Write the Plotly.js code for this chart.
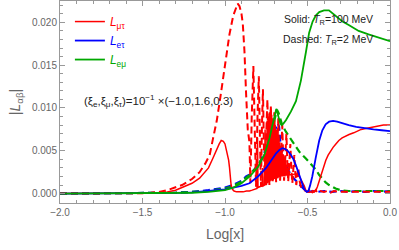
<!DOCTYPE html>
<html><head><meta charset="utf-8">
<script src="https://cdn.plot.ly/plotly-3.0.1.min.js"></script>
<style>html,body{margin:0;padding:0;background:#fff}#chart{width:399px;height:250px}</style>
</head><body><div id="chart"></div>
<script>
const xTickVals = [-2, -1.5, -1, -0.5, 0];
const yTickVals = [0, 0.005, 0.01, 0.015, 0.02];

const xRedSolid = [-2.0, -1.8, -1.6, -1.5, -1.45, -1.4, -1.35, -1.3, -1.275, -1.24,
 -1.2, -1.154, -1.12, -1.1, -1.074, -1.05, -1.035, -1.023, -1.01, -1.0,
 -0.993, -0.985, -0.978, -0.973, -0.968, -0.963, -0.955, -0.945, -0.93, -0.91,
 -0.89, -0.87, -0.852, -0.835, -0.82, -0.806, -0.803, -0.800, -0.79, -0.775,
 -0.772, -0.769, -0.760, -0.757, -0.754, -0.748, -0.745, -0.742, -0.738, -0.735,
 -0.731, -0.728, -0.724, -0.721, -0.717, -0.714, -0.710, -0.707, -0.703, -0.700,
 -0.696, -0.693, -0.689, -0.686, -0.682, -0.679, -0.675, -0.672, -0.668, -0.665,
 -0.661, -0.658, -0.654, -0.651, -0.647, -0.644, -0.640, -0.637, -0.633, -0.630,
 -0.626, -0.623, -0.619, -0.616, -0.612, -0.609, -0.600, -0.590, -0.575, -0.562,
 -0.550, -0.535, -0.520, -0.510, -0.500, -0.490, -0.480, -0.470, -0.460, -0.449,
 -0.440, -0.430, -0.420, -0.410, -0.400, -0.389, -0.375, -0.360, -0.345, -0.328,
 -0.310, -0.290, -0.270, -0.248, -0.220, -0.200, -0.175, -0.147, -0.120, -0.100,
 -0.070, -0.040, 0.0];
const yRedSolid = [0, 0, 0, 0.00001, 0.00003, 0.00008, 0.0002, 0.0004, 0.0006, 0.0009,
 0.0012, 0.0018, 0.0025, 0.003, 0.0041, 0.0052, 0.0058, 0.0062, 0.0061, 0.0058,
 0.0053, 0.0047, 0.0039, 0.0031, 0.002, 0.001, 0.0005, 0.0003, 0.0002, 0.0002,
 0.0002, 0.0003, 0.0003, 0.0004, 0.0005, 0.0006, 0.0065, 0.0007, 0.0008, 0.0009,
 0.003, 0.0009, 0.001, 0.0075, 0.001, 0.0011, 0.0085, 0.0012, 0.009, 0.0013,
 0.0095, 0.0014, 0.0098, 0.0015, 0.0092, 0.0016, 0.0088, 0.0016, 0.0084, 0.0017,
 0.008, 0.0017, 0.0075, 0.0018, 0.007, 0.0018, 0.0065, 0.0019, 0.006, 0.0019,
 0.0055, 0.002, 0.005, 0.002, 0.0046, 0.002, 0.0042, 0.002, 0.0038, 0.0021,
 0.0034, 0.0021, 0.003, 0.0021, 0.0027, 0.0022, 0.0022, 0.0022, 0.0023, 0.0023,
 0.002, 0.0015, 0.0009, 0.0004, 0.0002, 0.00015, 0.0002, 0.0001, 0.0002, 0.0004,
 0.0008, 0.0014, 0.0021, 0.0028, 0.0034, 0.0039, 0.0045, 0.005, 0.0054, 0.0058,
 0.0062, 0.0065, 0.0067, 0.0069, 0.0071, 0.0073, 0.0075, 0.0076, 0.0077, 0.0078,
 0.0079, 0.0080, 0.0080];

const xRedDashed = [-2.0, -1.7, -1.55, -1.5, -1.45, -1.4, -1.35, -1.3, -1.26, -1.2,
 -1.154, -1.12, -1.093, -1.074, -1.05, -1.03, -1.0, -0.973, -0.95, -0.932,
 -0.923, -0.912, -0.9, -0.892, -0.882, -0.872, -0.862, -0.852, -0.846, -0.838,
 -0.828, -0.818, -0.812, -0.803, -0.795, -0.787, -0.782, -0.776, -0.770, -0.763,
 -0.758, -0.750, -0.743, -0.736, -0.731, -0.727, -0.722, -0.716, -0.711, -0.706,
 -0.701, -0.695, -0.690, -0.683, -0.677, -0.671, -0.666, -0.659, -0.653, -0.647,
 -0.642, -0.635, -0.628, -0.622, -0.617, -0.610, -0.604, -0.598, -0.592, -0.586,
 -0.580, -0.574, -0.568, -0.562, -0.556, -0.548, -0.540, -0.530, -0.520, -0.510,
 -0.500, -0.490, -0.480, -0.470, -0.460, -0.450, -0.440, -0.420, -0.400, -0.380,
 -0.360, -0.340, -0.300, -0.250, -0.200, -0.150, -0.100, -0.050, 0.0];
const yRedDashed = [0, 0, 0.00003, 0.00005, 0.0001, 0.0002, 0.0004, 0.0007, 0.001, 0.0017,
 0.0025, 0.0035, 0.0045, 0.0063, 0.0085, 0.011, 0.0152, 0.0186, 0.0208, 0.0218,
 0.0222, 0.0219, 0.021, 0.0198, 0.0166, 0.0116, 0.0075, 0.006, 0.0012, 0.009,
 0.0149, 0.006, 0.0008, 0.009, 0.0137, 0.005, 0.0008, 0.008, 0.0122, 0.004,
 0.0009, 0.007, 0.011, 0.004, 0.001, 0.006, 0.0103, 0.004, 0.0012, 0.006,
 0.0095, 0.004, 0.0013, 0.005, 0.0088, 0.004, 0.0015, 0.005, 0.008, 0.004,
 0.0015, 0.004, 0.007, 0.0035, 0.0014, 0.0035, 0.0058, 0.003, 0.0012, 0.0028,
 0.0045, 0.0025, 0.001, 0.002, 0.003, 0.0015, 0.0008, 0.0005, 0.0004, 0.0003,
 0.0002, 0.0004, 0.0001, 0.0003, 0.0002, 0.0004, 0.0001, 0.0003, 0.0002, 0.0003,
 0.0001, 0.0003, 0.0002, 0.0002, 0.0002, 0.0002, 0.0002, 0.0002, 0.0002];

const xBlueSolid = [-2.0, -1.6, -1.5, -1.4, -1.3, -1.2, -1.1, -1.0, -0.95, -0.9,
 -0.852, -0.8, -0.751, -0.72, -0.69, -0.67, -0.653, -0.635, -0.62, -0.6,
 -0.585, -0.57, -0.55, -0.535, -0.52, -0.505, -0.495, -0.485, -0.471, -0.45,
 -0.429, -0.41, -0.39, -0.369, -0.345, -0.32, -0.29, -0.25, -0.205, -0.15,
 -0.1, -0.05, 0.0];
const yBlueSolid = [0, 0, 0.00001, 0.00003, 0.00008, 0.00015, 0.0003, 0.0005, 0.0007, 0.0009,
 0.0012, 0.002, 0.003, 0.0039, 0.0047, 0.0051, 0.0053, 0.0052, 0.005, 0.0045,
 0.004, 0.0033, 0.0021, 0.0012, 0.0005, 0.0002, 0.0003, 0.0009, 0.002, 0.0042,
 0.0062, 0.0074, 0.0081, 0.0084, 0.0085, 0.0084, 0.0082, 0.0080, 0.0078, 0.0076,
 0.0075, 0.0074, 0.0073];

const xBlueDashed = [-2.0, -1.5, -1.4, -1.3, -1.2, -1.1, -1.0, -0.95, -0.9, -0.872,
 -0.852, -0.822, -0.79, -0.761, -0.74, -0.713, -0.695, -0.68, -0.672, -0.665,
 -0.653, -0.64, -0.625, -0.61, -0.59, -0.57, -0.55, -0.53, -0.51, -0.49,
 -0.47, -0.44, -0.4, -0.35, -0.3, -0.25, -0.2, -0.15, -0.1, -0.05, 0.0];
const yBlueDashed = [0, 0.00002, 0.00005, 0.0001, 0.0002, 0.0004, 0.0007, 0.001, 0.0015, 0.002,
 0.0022, 0.0028, 0.0036, 0.0049, 0.0057, 0.0067, 0.0076, 0.0082, 0.0078, 0.006,
 0.0047, 0.0038, 0.0031, 0.0025, 0.0019, 0.0015, 0.001, 0.0006, 0.0003, 0.0002,
 0.0003, 0.0002, 0.0003, 0.0002, 0.0003, 0.0002, 0.0003, 0.0002, 0.0003, 0.0002, 0.0003];

const xGreenSolid = [-2.0, -1.5, -1.4, -1.3, -1.2, -1.1, -1.0, -0.95, -0.9, -0.85,
 -0.8, -0.76, -0.73, -0.71, -0.697, -0.689, -0.682, -0.673, -0.665, -0.657,
 -0.645, -0.63, -0.6, -0.57, -0.54, -0.509, -0.49, -0.469, -0.45, -0.429,
 -0.4, -0.37, -0.34, -0.31, -0.288, -0.25, -0.19, -0.13, -0.07, 0.0];
const yGreenSolid = [0, 0.00001, 0.00003, 0.00006, 0.0001, 0.0002, 0.0004, 0.0007, 0.0012, 0.002,
 0.0031, 0.0046, 0.0065, 0.0082, 0.0094, 0.0099, 0.0094, 0.0087, 0.0082, 0.008,
 0.0082, 0.0086, 0.0096, 0.0108, 0.0132, 0.0166, 0.0188, 0.0201, 0.0208, 0.0212,
 0.0214, 0.0214, 0.0209, 0.0204, 0.0201, 0.0197, 0.019, 0.0186, 0.0182, 0.0178];

const xGreenDashed = [-2.0, -1.5, -1.4, -1.3, -1.2, -1.1, -1.0, -0.95, -0.9, -0.85,
 -0.8, -0.76, -0.73, -0.71, -0.695, -0.685, -0.675, -0.665, -0.653, -0.63,
 -0.61, -0.58, -0.55, -0.51, -0.48, -0.449, -0.43, -0.41, -0.39, -0.369,
 -0.35, -0.33, -0.3, -0.25, -0.2, -0.15, -0.1, -0.05, 0.0];
const yGreenDashed = [0, 0.00002, 0.00005, 0.0001, 0.0002, 0.0003, 0.0006, 0.0009, 0.0014, 0.0022,
 0.0033, 0.0047, 0.0062, 0.0078, 0.0092, 0.0098, 0.0094, 0.0088, 0.008, 0.0072,
 0.0066, 0.0057, 0.0049, 0.0041, 0.0034, 0.0028, 0.0022, 0.0017, 0.0013, 0.001,
 0.0008, 0.0006, 0.0004, 0.0003, 0.0003, 0.0003, 0.0003, 0.0003, 0.0003];

const RED = '#ff0000', BLUE = '#0000ff', GREEN = '#00a800';
const DASH = '7px,4px';

const traces = [
 {x: xBlueDashed, y: yBlueDashed, mode: 'lines', line: {color: BLUE, width: 2.2, dash: DASH}, showlegend: false},
 {x: xGreenDashed, y: yGreenDashed, mode: 'lines', line: {color: GREEN, width: 2.2, dash: DASH}, showlegend: false},
 {x: xRedDashed, y: yRedDashed, mode: 'lines', line: {color: RED, width: 2, dash: DASH}, showlegend: false},
 {x: xRedSolid, y: yRedSolid, mode: 'lines', line: {color: RED, width: 1.5}, name: '<span style="color:#ff0000"><i>L</i><sub>μτ</sub></span>'},
 {x: xBlueSolid, y: yBlueSolid, mode: 'lines', line: {color: BLUE, width: 1.8}, name: '<span style="color:#0000ff"><i>L</i><sub>eτ</sub></span>'},
 {x: xGreenSolid, y: yGreenSolid, mode: 'lines', line: {color: GREEN, width: 1.8}, name: '<span style="color:#00a800"><i>L</i><sub>eμ</sub></span>'}
];

const axisCommon = {
 ticks: 'inside', ticklen: 5, tickwidth: 1, tickcolor: '#999',
 showline: true, linecolor: '#999', linewidth: 1, mirror: 'allticks',
 showgrid: false, zeroline: false, automargin: false,
 tickfont: {size: 10, color: '#666', family: 'Liberation Sans, Arial, sans-serif'}
};

const layout = {
 width: 399, height: 250,
 margin: {l: 60, r: 9, t: 1, b: 47},
 paper_bgcolor: '#fff', plot_bgcolor: '#fff',
 font: {family: 'Liberation Sans, Arial, sans-serif', color: '#222', size: 10},
 showlegend: true,
 legend: {x: 0.03, y: 0.97, xanchor: 'left', yanchor: 'top', bgcolor: 'rgba(0,0,0,0)',
   font: {size: 12}, tracegroupgap: 0, itemwidth: 30},
 xaxis: Object.assign({}, axisCommon, {
   range: [-2, 0], tickmode: 'array', tickvals: xTickVals,
   ticktext: xTickVals.map(v => (v < 0 ? '\u2212' : '') + Math.abs(v).toFixed(1)),
   minor: {tickmode: 'linear', tick0: 0, dtick: 0.1, ticks: 'inside', ticklen: 3, tickcolor: '#999', showgrid: false},
   title: {text: 'Log[x]', font: {size: 14, color: '#666'}, standoff: 12}
 }),
 yaxis: Object.assign({}, axisCommon, {
   range: [-0.0011, 0.0225], tickmode: 'array', tickvals: yTickVals,
   ticktext: yTickVals.map(v => v.toFixed(3)),
   minor: {tickmode: 'linear', tick0: 0, dtick: 0.001, ticks: 'inside', ticklen: 3, tickcolor: '#999', showgrid: false},
   title: {text: '|<i>L</i><sub>αβ</sub>|', font: {size: 14, color: '#666'}, standoff: 8}
 }),
 annotations: [
   {xref: 'paper', yref: 'paper', x: 0.067, y: 0.507, xanchor: 'left', yanchor: 'middle', showarrow: false,
    text: '(ξ<sub>e</sub>,ξ<sub>μ</sub>,ξ<sub>τ</sub>)=10<sup>−1</sup> ×(−1.0,1.6,0.3)', font: {size: 11.5, color: '#222'}},
   {xref: 'paper', yref: 'paper', x: 0.673, y: 0.906, xanchor: 'left', yanchor: 'middle', showarrow: false,
    text: 'Solid: <i>T</i><sub>R</sub>=100 MeV', font: {size: 10.5, color: '#222'}},
   {xref: 'paper', yref: 'paper', x: 0.67, y: 0.808, xanchor: 'left', yanchor: 'middle', showarrow: false,
    text: 'Dashed: <i>T</i><sub>R</sub>=2 MeV', font: {size: 10.5, color: '#222'}}
 ]
};

Plotly.newPlot('chart', traces, layout, {displayModeBar: false, staticPlot: true});
</script>
</body></html>
